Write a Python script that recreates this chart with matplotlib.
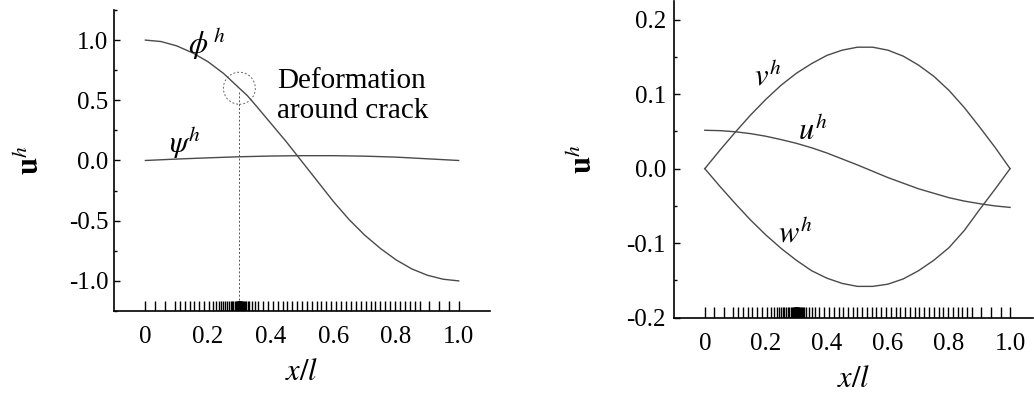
import matplotlib
matplotlib.use("Agg")
import matplotlib.pyplot as plt
from matplotlib.patches import Ellipse
from matplotlib.ticker import MultipleLocator, FixedLocator, FixedFormatter

plt.rcParams['font.family'] = ['Liberation Serif', 'DejaVu Serif']
plt.rcParams['mathtext.fontset'] = 'stix'
plt.rcParams['axes.unicode_minus'] = False

# finite element nodes along the beam, refined around the crack at x/l = 0.3
mesh_nodes = [0.0, 0.031, 0.062, 0.094, 0.109, 0.125, 0.141, 0.156, 0.172, 0.188,
              0.203, 0.216, 0.226, 0.235, 0.242, 0.249, 0.255, 0.261, 0.267, 0.272,
              0.276, 0.281, 0.285, 0.288, 0.291, 0.293, 0.295, 0.296, 0.297, 0.298,
              0.299, 0.2995, 0.3, 0.3005, 0.301, 0.302, 0.303, 0.304, 0.305, 0.307,
              0.309, 0.312, 0.314, 0.317, 0.321, 0.326, 0.332, 0.34, 0.35, 0.36,
              0.375, 0.39, 0.406, 0.422, 0.438, 0.453, 0.469, 0.484, 0.5, 0.516,
              0.531, 0.547, 0.562, 0.578, 0.594, 0.609, 0.625, 0.641, 0.656, 0.672,
              0.688, 0.703, 0.719, 0.734, 0.75, 0.766, 0.781, 0.797, 0.812, 0.828,
              0.844, 0.859, 0.875, 0.906, 0.938, 0.969, 1.0]
crack_x = 0.3
crack_phi = 0.6

# rotations (left)
x_phi = [0, 0.05, 0.1, 0.15, 0.2, 0.25, 0.3, 0.325, 0.35, 0.4, 0.45, 0.5, 0.55,
         0.6, 0.65, 0.7, 0.75, 0.8, 0.85, 0.9, 0.95, 1.0]
phi_h = [1.0, 0.988, 0.952, 0.895, 0.82, 0.722, 0.6, 0.54, 0.465, 0.31, 0.155, -0.01,
         -0.175, -0.34, -0.49, -0.62, -0.73, -0.825, -0.9, -0.953, -0.986, -1.0]
x_psi = [0, 0.1, 0.2, 0.3, 0.4, 0.5, 0.6, 0.7, 0.8, 0.9, 1.0]
psi_h = [0, 0.012, 0.022, 0.031, 0.037, 0.040, 0.040, 0.036, 0.028, 0.014, 0.0]

# displacements (right)
x_disp = [0, 0.05, 0.1, 0.15, 0.2, 0.25, 0.3, 0.35, 0.4, 0.45, 0.5, 0.55, 0.6,
          0.65, 0.7, 0.75, 0.8, 0.85, 0.9, 0.95, 1.0]
v_h = [0, 0.025, 0.049, 0.072, 0.093, 0.112, 0.128, 0.141, 0.152, 0.159, 0.163,
       0.163, 0.159, 0.151, 0.139, 0.124, 0.105, 0.082, 0.056, 0.029, 0]
w_h = [0, -0.024, -0.047, -0.069, -0.089, -0.107, -0.123, -0.137, -0.147, -0.154,
       -0.158, -0.158, -0.155, -0.148, -0.137, -0.123, -0.106, -0.083, -0.055, -0.028, 0]
u_h = [0.0515, 0.051, 0.0495, 0.047, 0.0435, 0.039, 0.034, 0.028, 0.021, 0.013,
       0.005, -0.0035, -0.012, -0.0195, -0.027, -0.033, -0.039, -0.0435, -0.047,
       -0.050, -0.052]

xticks = [0, 0.2, 0.4, 0.6, 0.8, 1.0]
xtick_labels = ['0', '0.2', '0.4', '0.6', '0.8', '1.0']

line_c = '#4a4a4a'

fig = plt.figure(figsize=(10.34, 3.98), dpi=100)
ax1 = fig.add_axes([0.1103, 0.2186, 0.3636, 0.7563])
ax2 = fig.add_axes([0.6521, 0.2018, 0.3469, 0.7957])


def style_axes(ax, ylabel_x):
    for s in ['top', 'right']:
        ax.spines[s].set_visible(False)
    for s in ['left', 'bottom']:
        ax.spines[s].set_linewidth(1.2)
    ax.xaxis.set_major_locator(FixedLocator(xticks))
    ax.xaxis.set_major_formatter(FixedFormatter(xtick_labels))
    ax.tick_params(axis='x', length=0, pad=11, labelsize=18)
    ax.tick_params(axis='y', which='major', direction='in', length=4, width=1,
                   pad=4, labelsize=18)
    ax.tick_params(axis='y', which='minor', direction='in', length=2.5, width=1)
    ax.set_xlabel('$x/l$', fontsize=22, labelpad=7)
    ax.set_ylabel(r'$\mathbf{u}^{h}$', fontsize=22, labelpad=0)
    ax.yaxis.set_label_coords(ylabel_x, 0.5)
    # mesh nodes drawn as short marks on the bottom axis
    ax.vlines(mesh_nodes, 0, 0.033, transform=ax.get_xaxis_transform(),
              color='black', lw=1.0)


# left panel: rotations
ax1.plot(x_phi, phi_h, color=line_c, lw=1.0)
ax1.plot(x_psi, psi_h, color=line_c, lw=1.0)
ax1.set_xlim(-0.1, 1.1)
ax1.set_ylim(-1.25, 1.25)
ax1.yaxis.set_major_locator(MultipleLocator(0.5))
ax1.yaxis.set_minor_locator(MultipleLocator(0.25))
ax1.yaxis.set_major_formatter(plt.FuncFormatter(lambda v, p: f'{v:.1f}'))
style_axes(ax1, -0.18)
ax1.add_patch(Ellipse((crack_x, crack_phi), 0.102, 0.266, fill=False,
                      ls=(0, (2, 2)), lw=0.7, edgecolor='#666666'))
ax1.plot([crack_x, crack_x], [crack_phi - 0.03, -1.167], color='#555555',
         lw=0.7, ls=(0, (2, 2)))
ax1.text(0.195, 0.97, r'$\phi^{\,h}$', fontsize=22, ha='center', va='center')
ax1.text(0.125, 0.15, r'$\psi^{h}$', fontsize=22, ha='center', va='center')
ax1.text(0.42, 0.535, 'Deformation\naround crack', fontsize=21, ha='left',
         va='center', linespacing=1.2)

# right panel: displacements
ax2.plot(x_disp, v_h, color=line_c, lw=1.0)
ax2.plot(x_disp, w_h, color=line_c, lw=1.0)
ax2.plot(x_disp, u_h, color=line_c, lw=1.0)
ax2.set_xlim(-0.1, 1.075)
ax2.set_ylim(-0.2, 0.225)
ax2.yaxis.set_major_locator(MultipleLocator(0.1))
ax2.yaxis.set_minor_locator(MultipleLocator(0.05))
ax2.yaxis.set_major_formatter(plt.FuncFormatter(lambda v, p: f'{v:.1f}'))
style_axes(ax2, -0.21)
ax2.tick_params(axis='y', which='major', pad=6)
ax2.text(0.207, 0.123, r'$v^{h}$', fontsize=22, ha='center', va='center')
ax2.text(0.354, 0.05, r'$u^{h}$', fontsize=22, ha='center', va='center')
ax2.text(0.295, -0.088, r'$w^{h}$', fontsize=22, ha='center', va='center')

fig.savefig('out.png', dpi=100)
